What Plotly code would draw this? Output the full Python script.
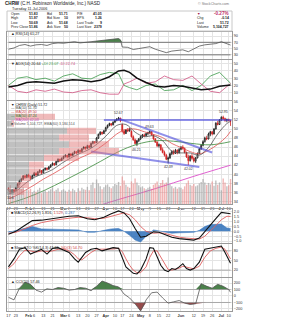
import plotly.graph_objects as go

W, H = 282, 320
X0, X1 = 7, 232

# ---------------- data ----------------
tick_idx = [0, 4, 11, 14, 19, 24, 30, 33, 38, 43, 48, 53, 58, 62, 67, 72, 77, 82, 87, 94, 101, 106, 111, 116, 120]
tick_text = ["17", "23", "<b>Feb</b>", "6", "13", "21", "<b>Mar</b>", "6", "13", "20", "27", "<b>Apr</b>", "10", "17",
             "24", "<b>May</b>", "8", "15", "22", "<b>Jun</b>", "12", "19", "26", "<b>Jul</b>", "10"]

opens = [36.9, 36.4, 36.0, 36.5, 36.3, 37.0, 37.8, 38.6, 38.9, 39.6, 39.3,
         39.8, 39.5, 39.0, 39.7, 40.2, 39.8, 40.5, 40.8, 40.3, 41.0, 41.3, 41.1, 41.6, 42.0, 42.4, 42.1, 42.8, 43.3, 43.0,
         43.5, 43.9, 44.2, 43.8, 44.5, 44.1, 44.6, 45.0, 44.7, 45.3, 45.0, 45.6, 46.0, 45.7, 46.3, 46.0, 46.8, 47.2, 47.0, 48.0, 48.8, 49.3, 49.0,
         49.6, 50.3, 50.8, 51.2, 50.9, 51.5, 51.9, 52.2, 52.4, 51.0, 49.5, 49.0, 49.8, 49.6, 49.5, 48.3, 47.6, 46.8, 47.4,
         47.8, 48.3, 48.7, 48.5, 49.0, 49.2, 49.4, 48.7, 47.8, 47.1, 46.3, 46.5, 45.4, 44.8, 44.2, 43.3, 43.6, 44.5, 45.0, 44.6, 45.3, 44.7,
         45.5, 46.0, 45.7, 44.8, 43.8, 43.0, 44.0, 43.5, 42.9, 43.6, 44.6, 45.6, 46.4, 47.2, 48.0, 47.8, 48.9, 49.4, 48.9, 50.0, 51.3, 51.0,
         52.0, 52.6, 52.3, 51.9, 52.1, 51.83]
highs = [37.1, 36.6, 36.7, 36.8, 37.2, 38.0, 38.8, 39.2, 39.8, 39.9, 40.0,
         40.1, 39.7, 39.9, 40.5, 40.4, 40.7, 41.1, 40.9, 41.2, 41.5, 41.5, 41.8, 42.2, 42.6, 42.5, 43.0, 43.5, 43.4, 43.7,
         44.1, 44.4, 44.3, 44.7, 44.6, 44.8, 45.2, 45.1, 45.5, 45.4, 45.8, 46.2, 46.1, 46.5, 46.4, 47.0, 47.4, 47.3, 48.2, 49.0, 49.5, 49.4, 49.8,
         50.5, 51.0, 51.4, 51.3, 51.7, 52.1, 52.4, 52.67, 52.5, 51.2, 49.9, 50.0, 50.2, 50.3, 49.7, 48.6, 47.9, 47.6, 48.0,
         48.5, 48.9, 49.0, 49.2, 49.4, 49.63, 49.5, 48.8, 48.0, 47.3, 46.8, 46.6, 45.9, 45.2, 44.5, 43.9, 44.8, 45.3, 45.4, 45.6, 45.5, 45.8,
         46.2, 46.4, 45.9, 45.0, 44.3, 44.2, 44.5, 43.9, 43.8, 44.8, 45.8, 46.6, 47.5, 48.3, 48.5, 49.2, 49.6, 49.5, 50.2, 51.5, 51.8, 52.2,
         52.8, 52.95, 52.5, 52.3, 52.3, 51.97]
lows = [36.2, 35.6, 35.9, 36.0, 36.2, 36.9, 37.6, 38.3, 38.7, 39.0, 39.1,
        39.2, 38.8, 38.9, 39.5, 39.6, 39.7, 40.3, 40.0, 40.2, 40.8, 40.8, 41.0, 41.4, 41.9, 41.8, 42.0, 42.6, 42.7, 42.9,
        43.3, 43.7, 43.5, 43.7, 43.9, 44.0, 44.4, 44.4, 44.6, 44.7, 44.9, 45.5, 45.4, 45.6, 45.7, 45.9, 46.6, 46.7, 46.9, 47.8, 48.6, 48.7, 48.9,
        49.4, 50.1, 50.6, 50.6, 50.8, 51.3, 51.7, 51.9, 51.5, 49.2, 48.7, 48.9, 49.3, 49.4, 48.1, 47.4, 46.6, 46.21, 47.1,
        47.6, 48.0, 48.2, 48.3, 48.6, 48.9, 48.5, 47.6, 46.9, 46.0, 45.9, 45.2, 44.6, 43.9, 43.1, 42.39, 43.4, 44.2, 44.3, 44.5, 44.4, 44.6,
        45.3, 45.4, 44.6, 43.6, 42.02, 42.8, 43.2, 42.6, 42.5, 43.5, 44.4, 45.4, 46.2, 47.0, 47.5, 47.7, 48.4, 48.6, 48.8, 49.9, 50.8, 50.9,
        51.8, 52.0, 51.6, 51.5, 51.7, 50.69]
closes = [36.5, 36.0, 36.5, 36.2, 37.0, 37.8, 38.6, 38.9, 39.6, 39.3, 39.8,
          39.5, 39.0, 39.7, 40.2, 39.8, 40.5, 40.8, 40.3, 41.0, 41.3, 41.1, 41.6, 42.0, 42.4, 42.1, 42.8, 43.3, 43.0, 43.5,
          43.9, 44.2, 43.8, 44.5, 44.1, 44.6, 45.0, 44.7, 45.3, 45.0, 45.6, 46.0, 45.7, 46.3, 46.0, 46.8, 47.2, 47.0, 48.0, 48.8, 49.3, 49.0, 49.6,
          50.3, 50.8, 51.2, 50.9, 51.5, 51.9, 52.2, 52.4, 51.8, 49.5, 49.0, 49.8, 49.6, 50.0, 48.3, 47.6, 46.8, 47.4, 47.8,
          48.3, 48.7, 48.5, 49.0, 49.2, 49.4, 48.7, 47.8, 47.1, 46.3, 46.5, 45.4, 44.8, 44.2, 43.3, 43.6, 44.5, 45.0, 44.6, 45.3, 44.7, 45.5,
          46.0, 45.7, 44.8, 43.8, 43.0, 44.0, 43.5, 42.9, 43.6, 44.6, 45.6, 46.4, 47.2, 48.0, 47.8, 48.9, 49.4, 48.9, 50.0, 51.3, 51.0, 52.0,
          52.6, 52.3, 51.9, 52.1, 51.86, 51.72]
volumes = [3.2, 3.8, 2.9, 2.5, 3.0, 3.6, 4.2, 3.1, 3.4, 2.6, 3.0,
           2.8, 3.1, 2.4, 2.7, 2.5, 2.9, 3.3, 2.2, 2.6, 2.8, 2.4, 2.7, 3.0, 3.4, 2.6, 2.9, 3.2, 2.5, 2.8,
           3.0, 2.7, 2.5, 2.9, 2.6, 3.1, 2.8, 2.4, 3.2, 2.7, 3.3, 3.0, 2.9, 3.5, 2.8, 3.9, 4.4, 3.2, 5.0, 4.2, 3.6, 3.0, 3.4,
           3.8, 4.0, 3.5, 3.2, 3.6, 4.1, 3.9, 4.5, 3.7, 5.6, 4.8, 3.9, 3.5, 3.3, 4.6, 4.2, 5.2, 4.4, 3.8,
           3.4, 3.6, 3.2, 3.0, 3.3, 3.5, 3.1, 3.9, 4.2, 4.6, 3.8, 4.3, 4.9, 4.1, 4.4, 5.4, 4.0, 3.6, 3.2, 3.5, 3.1, 3.4,
           3.3, 3.0, 3.6, 4.2, 4.8, 3.9, 3.7, 4.1, 3.6, 3.8, 4.2, 4.5, 5.1, 4.4, 3.9, 4.3, 4.0, 4.6, 3.7, 4.8, 3.9, 4.4,
           2.8, 5.2, 4.4, 3.6, 3.8, 5.1]

ma_idx = [0, 4, 9, 14, 19, 24, 29, 34, 39, 44, 49, 54, 59, 64, 69, 74, 79, 84, 89, 94, 99, 104, 109, 114, 119, 121]
ma10 = [35.6, 36.2, 37.9, 39.3, 40.1, 41.0, 42.4, 43.6, 44.6, 45.5, 46.9, 48.8, 50.8, 51.0, 49.3, 48.3, 48.5, 47.4,
        45.1, 44.7, 44.7, 44.2, 45.9, 48.9, 51.2, 51.7]
ma20 = [34.6, 35.2, 36.4, 37.6, 38.9, 40.0, 41.2, 42.5, 43.6, 44.5, 45.7, 47.2, 48.9, 49.9, 50.0, 49.4, 48.8, 48.1,
        46.8, 45.9, 45.0, 44.5, 45.3, 46.6, 48.4, 49.5]
ma50_idx = [0, 10, 20, 30, 40, 50, 60, 70, 80, 90, 100, 110, 121]
ma50 = [33.5, 34.8, 36.5, 38.5, 40.6, 42.8, 45.0, 46.6, 47.4, 47.3, 46.8, 46.5, 47.2]
ma200_idx = [0, 20, 40, 60, 80, 100, 121]
ma200 = [29.0, 30.5, 32.0, 34.4, 36.8, 39.4, 42.0]

trend_down_x = [60, 111]
trend_down_y = [52.3, 44.8]
trend_low_x = [45, 104]
trend_low_y = [45.0, 41.6]
trend_flat_x = [52, 121.5]
trend_flat_y = [52.0, 52.0]

plabel_idx = [1, 60, 70, 77, 87, 98, 117]
plabel_val = [35.6, 52.67, 46.21, 49.63, 42.39, 42.02, 52.95]
plabel_up = [False, True, False, True, False, False, True]

vbp_price = [52.7, 51.2, 49.6, 48.1, 46.6, 45.1, 43.6, 42.1, 40.6, 39.1, 37.6, 36.1]
vbp_up = [8, 5, 60, 52, 62, 52, 37, 22, 22, 14, 10, 7]
vbp_down = [40, 2, 29, 30, 40, 60, 35, 15, 12, 10, 12, 10]

rsi_idx = [0, 3, 6, 9, 12, 15, 18, 21, 24, 27, 30, 33, 36, 39, 42, 45, 48, 51, 54, 57, 60, 61, 62, 65, 68, 71, 74, 77,
           80, 83, 86, 89, 92, 95, 98, 101, 104, 107, 110, 113, 116, 118, 121]
rsi_val = [48, 52, 60, 63, 58, 62, 63, 60, 66, 68, 67, 69, 72, 68, 70, 71, 74, 76, 79, 80, 82, 78, 55, 54, 47, 50, 53,
           56, 48, 42, 37, 42, 44, 46, 40, 48, 58, 62, 64, 66, 72, 67, 61.27]

adx_idx = [0, 5, 10, 15, 20, 25, 30, 35, 40, 45, 50, 55, 60, 63, 66, 70, 75, 80, 85, 90, 95, 100, 105, 110, 115, 121]
adx_val = [18, 20, 24, 25, 24, 23, 26, 28, 27, 25, 27, 32, 40, 41, 38, 30, 24, 19, 18, 20, 19, 17, 14, 15, 19, 20.64]
pdi_val = [20, 30, 32, 28, 30, 26, 33, 36, 30, 29, 35, 38, 36, 20, 17, 14, 20, 22, 13, 14, 20, 13, 20, 33, 38, 23.07]
mdi_val = [20, 12, 10, 14, 12, 15, 11, 10, 13, 14, 10, 8, 8, 22, 25, 30, 23, 25, 33, 28, 27, 33, 22, 12, 10, 22.74]

macd_idx = [0, 4, 8, 13, 18, 25, 33, 38, 43, 47, 52, 56, 60, 63, 66, 69, 72, 75, 79, 82, 85, 89, 93, 97, 101, 104, 107,
            110, 113, 116, 119, 121]
macd_val = [-0.3, 0.0, 0.5, 1.1, 1.15, 1.35, 1.55, 1.6, 1.3, 1.2, 1.45, 1.8, 2.1, 1.9, 1.3, 0.3, -0.6, -0.5, -0.05, -0.1,
            -0.3, -0.6, -0.75, -0.8, -0.9, -0.7, 0.0, 0.7, 1.3, 1.95, 1.9, 1.816]
signal_val = [-0.2, -0.1, 0.2, 0.6, 0.9, 1.15, 1.35, 1.45, 1.4, 1.3, 1.35, 1.55, 1.8, 1.9, 1.7, 1.2, 0.5, 0.0, -0.2, -0.15,
              -0.2, -0.4, -0.6, -0.7, -0.8, -0.8, -0.5, 0.0, 0.6, 1.2, 1.55, 1.529]
hist_val = [-0.1, 0.1, 0.3, 0.5, 0.25, 0.2, 0.2, 0.15, -0.1, -0.1, 0.1, 0.25, 0.3, 0.0, -0.4, -0.9, -1.1, -0.5, 0.15, 0.05,
            -0.1, -0.2, -0.15, -0.1, -0.1, 0.1, 0.5, 0.7, 0.7, 0.75, 0.35, 0.287]

sto_idx = [0, 3, 6, 9, 12, 15, 18, 21, 24, 27, 30, 33, 36, 38, 40, 42, 45, 48, 51, 54, 57, 60, 62, 64, 66, 68, 70, 72,
           75, 77, 79, 81, 83, 85, 87, 89, 91, 93, 95, 97, 99, 101, 104, 107, 110, 113, 116, 118, 121]
sto_k = [30, 55, 85, 90, 70, 78, 85, 70, 88, 90, 82, 75, 55, 45, 60, 75, 85, 88, 80, 85, 90, 88, 60, 30, 20, 10, 8, 20,
         55, 90, 88, 60, 35, 20, 15, 25, 22, 30, 40, 25, 20, 25, 45, 85, 88, 92, 95, 75, 41.65]
sto_d = [25, 40, 65, 82, 80, 76, 80, 78, 80, 85, 86, 80, 68, 55, 52, 62, 75, 85, 85, 84, 86, 88, 78, 55, 35, 20, 12, 12,
         30, 60, 80, 80, 60, 38, 22, 20, 22, 26, 32, 30, 26, 24, 32, 60, 80, 88, 92, 85, 54.7]

cci_idx = [0, 3, 6, 9, 12, 15, 18, 21, 24, 27, 30, 33, 36, 39, 42, 45, 48, 51, 54, 57, 60, 63, 66, 69, 72, 75, 78, 81,
           84, 87, 90, 93, 96, 99, 102, 105, 108, 111, 114, 117, 120, 121]
cci_val = [-20, -60, 120, 210, 180, 90, 60, 110, 100, 130, 120, 90, 100, 130, 120, 80, 150, 230, 200, 160, 140, 30, -30,
           -120, -230, -60, 50, 60, -30, -110, -90, -70, -110, -130, -120, 190, 150, 120, 180, 150, 100, 57.46]

days = list(range(len(closes)))

# ---------------- helpers ----------------
def px(p):
    return p / W


def py(p):
    return 1 - p / H


FONT = "Liberation Sans, Arial, sans-serif"
GRID = "#e4e4e4"
BORDER = "#9a9a9a"

panels = {1: (32, 59), 2: (60, 100), 3: (101, 204), 4: (209, 243), 5: (244, 277), 6: (278, 311)}
yranges = {1: [16.7, 103], 2: [0, 55], 3: [33.4, 56.2], 4: [-1.2, 2.3], 5: [-1.5, 101.5], 6: [-231, 277]}
yticks = {1: [30, 50, 70, 90], 2: [10, 20, 30, 40, 50], 3: list(range(34, 57, 2)),
          4: [-1, -0.5, 0, 0.5, 1, 1.5, 2], 5: [20, 50, 80], 6: [-200, -100, 0, 100, 200]}

layout = dict(width=W, height=H, autosize=False, margin=dict(l=0, r=0, t=0, b=0),
              paper_bgcolor="white", plot_bgcolor="white", showlegend=False, barmode="overlay",
              font=dict(family=FONT, size=5, color="#333"))

for i, (top, bot) in panels.items():
    sx = "" if i == 1 else str(i)
    xa = dict(domain=[px(X0), px(X1)], range=[-0.8, 121.8], anchor="y" + sx, tickvals=tick_idx,
              ticktext=tick_text, showticklabels=(i in (3, 6)), tickfont=dict(size=3.8, color="#333"),
              tickangle=0, ticks="", ticklen=0, showgrid=True, gridcolor=GRID, gridwidth=1, showline=True,
              mirror=True, linecolor=BORDER, linewidth=1, zeroline=False, fixedrange=True)
    if i == 3:
        xa["rangeslider"] = dict(visible=False)
    ya = dict(domain=[py(bot), py(top)], range=yranges[i], anchor="x" + sx, side="right",
              tickvals=yticks[i], tickfont=dict(size=3.8, color="#333"), ticks="", showgrid=True,
              gridcolor=GRID, gridwidth=1, showline=True, mirror=True, linecolor=BORDER, linewidth=1,
              zeroline=False, fixedrange=True)
    if i == 4:
        ya["tickformat"] = ".1f"
    layout["xaxis" + sx] = xa
    layout["yaxis" + sx] = ya

# volume overlay axis and volume-by-price overlay axis
layout["yaxis7"] = dict(overlaying="y3", anchor="x3", range=[0, 21], visible=False, side="right", fixedrange=True)
layout["xaxis8"] = dict(overlaying="x3", anchor="y3", range=[0, 225], visible=False, fixedrange=True)

fig = go.Figure()
fig.update_layout(**layout)

# ---------------- RSI ----------------
fig.add_trace(go.Scatter(x=[0, 121], y=[70, 70], mode="lines", line=dict(color="#777", width=1),
                         xaxis="x", yaxis="y", hoverinfo="skip"))
fig.add_trace(go.Scatter(x=rsi_idx, y=[max(v, 70) for v in rsi_val], mode="lines", line=dict(width=0),
                         fill="tonexty", fillcolor="rgba(55,115,55,0.9)", xaxis="x", yaxis="y", hoverinfo="skip"))
fig.add_trace(go.Scatter(x=[0, 121], y=[30, 30], mode="lines", line=dict(color="#777", width=1),
                         xaxis="x", yaxis="y", hoverinfo="skip"))
fig.add_trace(go.Scatter(x=rsi_idx, y=rsi_val, mode="lines", line=dict(color="#555", width=0.8),
                         xaxis="x", yaxis="y"))

# ---------------- ADX ----------------
fig.add_trace(go.Scatter(x=adx_idx, y=pdi_val, mode="lines", line=dict(color="#3c9a4a", width=0.8),
                         xaxis="x2", yaxis="y2"))
fig.add_trace(go.Scatter(x=adx_idx, y=mdi_val, mode="lines", line=dict(color="#d05080", width=0.8),
                         xaxis="x2", yaxis="y2"))
fig.add_trace(go.Scatter(x=adx_idx, y=adx_val, mode="lines", line=dict(color="#111", width=1.5),
                         xaxis="x2", yaxis="y2"))

# ---------------- Price panel ----------------
fig.add_trace(go.Bar(x=vbp_up, y=vbp_price, orientation="h", base=0, width=1.35,
                     marker=dict(color="rgba(140,140,140,0.55)", line=dict(width=0)), xaxis="x8", yaxis="y3"))
fig.add_trace(go.Bar(x=vbp_down, y=vbp_price, orientation="h", base=vbp_up, width=1.35,
                     marker=dict(color="rgba(225,120,120,0.5)", line=dict(width=0)), xaxis="x8", yaxis="y3"))
vol_colors = ["rgba(150,150,150,0.6)" if i == 0 or closes[i] >= closes[i - 1] else "rgba(230,120,120,0.55)"
              for i in days]
fig.add_trace(go.Bar(x=days, y=volumes, marker=dict(color=vol_colors, line=dict(width=0)), width=0.75,
                     xaxis="x3", yaxis="y7"))

fig.add_trace(go.Scatter(x=ma200_idx, y=ma200, mode="lines", line=dict(color="#e060d0", width=1, shape="spline"),
                         xaxis="x3", yaxis="y3"))
fig.add_trace(go.Scatter(x=ma50_idx, y=ma50, mode="lines", line=dict(color="#3a8a3a", width=0.8, shape="spline"),
                         xaxis="x3", yaxis="y3"))
fig.add_trace(go.Scatter(x=ma_idx, y=ma20, mode="lines", line=dict(color="#e05050", width=0.8, shape="spline"),
                         xaxis="x3", yaxis="y3"))
fig.add_trace(go.Scatter(x=ma_idx, y=ma10, mode="lines", line=dict(color="#555", width=0.8, shape="spline"),
                         xaxis="x3", yaxis="y3"))
for tx, ty in ((trend_flat_x, trend_flat_y), (trend_down_x, trend_down_y), (trend_low_x, trend_low_y)):
    fig.add_trace(go.Scatter(x=tx, y=ty, mode="lines", line=dict(color="rgba(70,70,220,0.6)", width=2),
                             xaxis="x3", yaxis="y3"))
fig.add_trace(go.Candlestick(x=days, open=opens, high=highs, low=lows, close=closes, xaxis="x3", yaxis="y3",
                             whiskerwidth=0,
                             increasing=dict(line=dict(color="#111", width=0.8), fillcolor="white"),
                             decreasing=dict(line=dict(color="#d02020", width=0.8), fillcolor="#d02020")))

# ---------------- MACD ----------------
fig.add_trace(go.Scatter(x=macd_idx, y=hist_val, mode="lines", line=dict(color="#2f6fb8", width=0.5),
                         fill="tozeroy", fillcolor="rgba(45,110,185,0.85)", xaxis="x4", yaxis="y4"))
fig.add_trace(go.Scatter(x=macd_idx, y=signal_val, mode="lines", line=dict(color="#e06060", width=0.9),
                         xaxis="x4", yaxis="y4"))
fig.add_trace(go.Scatter(x=macd_idx, y=macd_val, mode="lines", line=dict(color="#111", width=1.1),
                         xaxis="x4", yaxis="y4"))

# ---------------- Stochastics ----------------
for lv in (80, 20):
    fig.add_trace(go.Scatter(x=[0, 121], y=[lv, lv], mode="lines", line=dict(color="#999", width=0.8),
                             xaxis="x5", yaxis="y5", hoverinfo="skip"))
fig.add_trace(go.Scatter(x=sto_idx, y=sto_d, mode="lines", line=dict(color="#e06060", width=0.9),
                         xaxis="x5", yaxis="y5"))
fig.add_trace(go.Scatter(x=sto_idx, y=sto_k, mode="lines", line=dict(color="#111", width=1.1),
                         xaxis="x5", yaxis="y5"))

# ---------------- CCI ----------------
fig.add_trace(go.Scatter(x=[0, 121], y=[100, 100], mode="lines", line=dict(color="#999", width=0.8),
                         xaxis="x6", yaxis="y6", hoverinfo="skip"))
fig.add_trace(go.Scatter(x=cci_idx, y=[max(v, 100) for v in cci_val], mode="lines", line=dict(width=0),
                         fill="tonexty", fillcolor="rgba(55,115,55,0.9)", xaxis="x6", yaxis="y6", hoverinfo="skip"))
fig.add_trace(go.Scatter(x=[0, 121], y=[-100, -100], mode="lines", line=dict(color="#999", width=0.8),
                         xaxis="x6", yaxis="y6", hoverinfo="skip"))
fig.add_trace(go.Scatter(x=cci_idx, y=[min(v, -100) for v in cci_val], mode="lines", line=dict(width=0),
                         fill="tonexty", fillcolor="rgba(140,55,55,0.9)", xaxis="x6", yaxis="y6", hoverinfo="skip"))
fig.add_trace(go.Scatter(x=cci_idx, y=cci_val, mode="lines", line=dict(color="#555", width=0.8),
                         xaxis="x6", yaxis="y6"))

# ---------------- text ----------------
anns = []


def ann(x, y, text, size=3.8, color="#222", xanchor="left"):
    anns.append(dict(x=px(x), y=py(y), xref="paper", yref="paper", text=text, showarrow=False,
                     xanchor=xanchor, yanchor="middle", font=dict(size=size, color=color, family=FONT)))


ann(3, 4, "<b>CHRW</b> (C.H. Robinson Worldwide, Inc.) NASD", size=4.6)
ann(231, 4, "© StockCharts.com", size=3.6, color="#777", xanchor="right")
ann(10, 9, "Tuesday 11-Jul-2006", size=3.8)
rows_y = [13.5, 18, 22.5, 27]
colA = ["Open", "High", "Low", "Prev Close"]
valA = ["51.83", "51.97", "50.69", "51.86"]
colB = ["Bid", "Bid Size", "Ask", "Ask Size"]
valB = ["51.71", "10", "51.68", "50"]
colC = ["P/E", "EPS", "Last Trade", "Last Size"]
valC = ["41.05", "1.26", "9", "2379"]
colD = ["▼", "Chg", "Last", "Volume"]
valD = ["-0.27%", "-0.14", "51.72", "5,104,727"]
for k, yy in enumerate(rows_y):
    ann(9, yy, colA[k], size=3.5)
    ann(40, yy, "<b>" + valA[k] + "</b>", xanchor="right", size=3.5)
    ann(45, yy, colB[k], size=3.5)
    ann(70, yy, "<b>" + valB[k] + "</b>", xanchor="right", size=3.5)
    ann(75, yy, colC[k], size=3.5)
    ann(104, yy, "<b>" + valC[k] + "</b>", xanchor="right", size=3.5)
    ann(195, yy, colD[k], color="#a0204a" if k == 0 else "#222", size=3.5)
    ann(231, yy, "<b>" + valD[k] + "</b>", xanchor="right", size=4.6 if k == 0 else 3.5,
        color="#c0306a" if k == 0 else "#222")

ann(9, 34.5, "▲ RSI(14) 61.27", size=3.8)
ann(9, 64, "▼ ADX(14) 20.64 <span style='color:#3c9a4a'>+DI 23.07</span> "
           "<span style='color:#d05080'>-DI 22.74</span>", size=3.8)
legend_lines = [("▼ CHRW (Daily) 51.72", "#222"), ("— MA(10) 51.70", "#444"), ("— MA(20) 49.50", "#d04040"),
                ("— MA(50) 47.24", "#2e7d32"), ("— MA(200) 42.03", "#c040b0"),
                ("■ Volume 5,104,727, EMA(60) 3,184,514", "#555")]
for k, (t, c) in enumerate(legend_lines):
    ann(9, 104.5 + 3.9 * k, t, size=3.5, color=c)
ann(9, 212.5, "■ MACD(12,26,9) 1.816, <span style='color:#d04040'>1.529</span>, "
              "<span style='color:#2f6fb8'>0.287</span>", size=3.8)
ann(9, 247.5, "■ Slow STO %K(14,3) 41.65, <span style='color:#d04040'>%D(3) 54.70</span>", size=3.8)
ann(9, 281.5, "▲ CCI(20) 57.46", size=3.8)

for k in range(len(plabel_idx)):
    anns.append(dict(x=plabel_idx[k], y=plabel_val[k], xref="x3", yref="y3", text=str(plabel_val[k]),
                     showarrow=False, yshift=4 if plabel_up[k] else -4, font=dict(size=3.5, color="#333", family=FONT)))

fig.update_layout(annotations=anns)
fig.add_shape(type="rect", xref="paper", yref="paper", x0=px(X0), x1=px(X1), y0=py(31), y1=py(11),
              line=dict(color="#c8c8c8", width=1), fillcolor="rgba(0,0,0,0)")

fig.write_html("out.html", config=dict(displayModeBar=False, staticPlot=True))
